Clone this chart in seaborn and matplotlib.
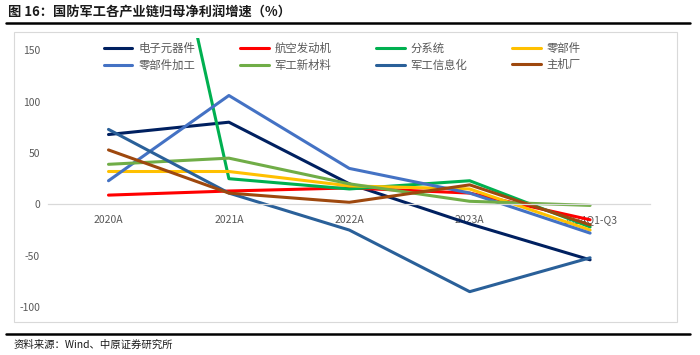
import numpy as np
import pandas as pd
import seaborn as sns
import matplotlib.pyplot as plt
from matplotlib.patches import Rectangle
from matplotlib.lines import Line2D

periods = ['2020A', '2021A', '2022A', '2023A', '2024Q1-Q3']
series_names = ['电子元器件', '航空发动机', '分系统', '零部件',
                '零部件加工', '军工新材料', '军工信息化', '主机厂']

dianzi = [68, 80, 20, -19, -54]
hangkong = [9, 13, 16, 11, -15]
fenxitong = [553, 25, 15, 23, -22]
lingbujian = [32, 32, 18, 15, -25]
lbj_jiagong = [23, 106, 35, 11, -28]
xincailiao = [39, 45, 20, 3, -1]
xinxihua = [73, 11, -25, -85, -52]
zhujichang = [53, 11, 2, 19, -20]

colors = ['#002060', '#FF0000', '#00B050', '#FFC000',
          '#4472C4', '#70AD47', '#2A6099', '#9E480E']

values = [dianzi, hangkong, fenxitong, lingbujian,
          lbj_jiagong, xincailiao, xinxihua, zhujichang]
df = pd.DataFrame([
    {'period': p, 'series': name, 'value': v}
    for name, vals in zip(series_names, values)
    for p, v in zip(periods, vals)
])

sns.set_style('white')
plt.rcParams['font.family'] = ['Noto Sans CJK SC', 'DejaVu Sans']
plt.rcParams['axes.unicode_minus'] = False

fig = plt.figure(figsize=(7, 3.55), dpi=100)
ax = fig.add_axes([0.069, 0.135, 0.860, 0.758])

sns.lineplot(data=df, x='period', y='value', hue='series', hue_order=series_names,
             palette=colors, sort=False, linewidth=2.2, ax=ax, legend=True)

ax.set_xlim(-0.5, 4.5)
ax.set_ylim(-100, 162)
ax.set_yticks([-100, -50, 0, 50, 100, 150])
ax.set_xlabel('')
ax.set_ylabel('')
for s in ['top', 'right', 'left']:
    ax.spines[s].set_visible(False)
ax.spines['bottom'].set_position(('data', 0))
ax.spines['bottom'].set_color('#D9D9D9')
ax.spines['bottom'].set_linewidth(0.9)
ax.tick_params(axis='both', length=0, labelsize=7.5, colors='#595959')
ax.tick_params(axis='x', pad=8)
ax.tick_params(axis='y', pad=6)

# legend fills by columns, so reorder to get row-wise order like the original
handles, labels = ax.get_legend_handles_labels()
order = [0, 4, 1, 5, 2, 6, 3, 7]
leg = ax.legend([handles[i] for i in order], [labels[i] for i in order],
                ncol=4, loc='upper left', bbox_to_anchor=(0.085, 1.0),
                frameon=False, fontsize=8.2, handlelength=2.5, handletextpad=0.5,
                columnspacing=3.95, labelspacing=0.5, borderaxespad=0)
for t in leg.get_texts():
    t.set_color('#595959')
for h in leg.get_lines():
    h.set_linewidth(2.2)

# chart frame
fig.add_artist(Rectangle((14 / 700, 1 - 322 / 355), (677 - 14) / 700, (322 - 32) / 355,
                         transform=fig.transFigure, fill=False,
                         edgecolor='#D9D9D9', linewidth=0.8))

# title and rules
fig.text(8 / 700, 1 - 12 / 355, '图 16：国防军工各产业链归母净利润增速（%）',
         fontsize=9.5, fontweight='bold', va='center', ha='left', color='#1a1a1a')
fig.add_artist(Line2D([6 / 700, 690 / 700], [1 - 23 / 355] * 2,
                      transform=fig.transFigure, color='black', linewidth=1.8))
fig.add_artist(Line2D([6 / 700, 690 / 700], [1 - 334 / 355] * 2,
                      transform=fig.transFigure, color='black', linewidth=1.8))
fig.text(14 / 700, 1 - 345 / 355, '资料来源：Wind、中原证券研究所',
         fontsize=7.5, va='center', ha='left', color='#1a1a1a')

fig.savefig('out.png', dpi=100)
